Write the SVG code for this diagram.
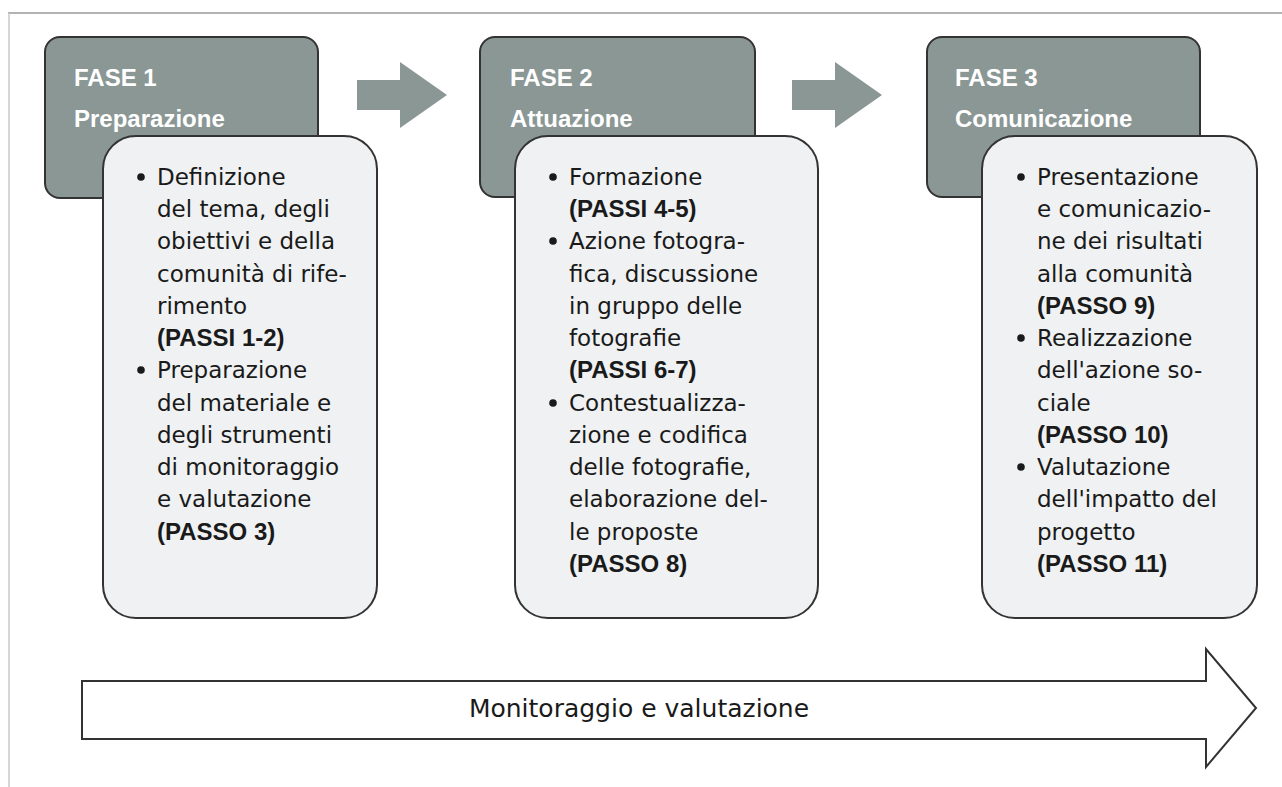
<svg xmlns="http://www.w3.org/2000/svg" width="1282" height="787" viewBox="0 0 1282 787">
<style>
.phase{fill:#8a9795;stroke:#333;stroke-width:2}
.card{fill:#eff1f2;stroke:#333;stroke-width:2}
.step{fill:#8a9795}
.title{font-family:"Liberation Sans",Arial,sans-serif;font-weight:bold;font-size:24px;fill:#fff}
.body{font-family:"DejaVu Sans","Liberation Sans",sans-serif;font-size:23px;fill:#1a1a1a}
.b{font-family:"Liberation Sans",Arial,sans-serif;font-weight:bold;font-size:24px}
.dot{fill:#1a1a1a}
.frame{stroke:#999;stroke-width:1.5;fill:none}
</style>
<rect width="1282" height="787" fill="#fff"/>
<path class="frame" d="M8 13 H1282"/>
<path d="M9 13 V787" stroke="#c8c8c8" stroke-width="1.5" fill="none"/>

<g id="connectors">
<polygon class="step" points="357,80 400,80 400,62 447,95 400,128 400,110 357,110"/>
<polygon class="step" points="792,80 835,80 835,62 882,95 835,128 835,110 792,110"/>
</g>

<g id="fase1">
<rect class="phase" x="45" y="37" width="273" height="161" rx="15"/>
<text class="title" x="74" y="86">FASE 1</text>
<text class="title" x="74" y="127">Preparazione</text>
<rect class="card" x="103" y="136" width="274" height="482" rx="33"/>
<circle class="dot" cx="141" cy="177" r="3.8"/>
<circle class="dot" cx="141" cy="370" r="3.8"/>
<text class="body">
<tspan x="157" y="185">Definizione</tspan>
<tspan x="157" y="217">del tema, degli</tspan>
<tspan x="157" y="249">obiettivi e della</tspan>
<tspan x="157" y="282">comunità di rife-</tspan>
<tspan x="157" y="314">rimento</tspan>
<tspan x="157" y="346" class="b">(PASSI 1-2)</tspan>
<tspan x="157" y="378">Preparazione</tspan>
<tspan x="157" y="411">del materiale e</tspan>
<tspan x="157" y="443">degli strumenti</tspan>
<tspan x="157" y="475">di monitoraggio</tspan>
<tspan x="157" y="507">e valutazione</tspan>
<tspan x="157" y="540" class="b">(PASSO 3)</tspan>
</text>
</g>

<g id="fase2">
<rect class="phase" x="480" y="37" width="275" height="160" rx="15"/>
<text class="title" x="510" y="86">FASE 2</text>
<text class="title" x="510" y="127">Attuazione</text>
<rect class="card" x="515" y="136" width="303" height="482" rx="33"/>
<circle class="dot" cx="553" cy="177" r="3.8"/>
<circle class="dot" cx="553" cy="241" r="3.8"/>
<circle class="dot" cx="553" cy="403" r="3.8"/>
<text class="body">
<tspan x="569" y="185">Formazione</tspan>
<tspan x="569" y="217" class="b">(PASSI 4-5)</tspan>
<tspan x="569" y="249">Azione fotogra-</tspan>
<tspan x="569" y="282">fica, discussione</tspan>
<tspan x="569" y="314">in gruppo delle</tspan>
<tspan x="569" y="346">fotografie</tspan>
<tspan x="569" y="378" class="b">(PASSI 6-7)</tspan>
<tspan x="569" y="411">Contestualizza-</tspan>
<tspan x="569" y="443">zione e codifica</tspan>
<tspan x="569" y="475">delle fotografie,</tspan>
<tspan x="569" y="507">elaborazione del-</tspan>
<tspan x="569" y="540">le proposte</tspan>
<tspan x="569" y="572" class="b">(PASSO 8)</tspan>
</text>
</g>

<g id="fase3">
<rect class="phase" x="927" y="37" width="273" height="160" rx="15"/>
<text class="title" x="955" y="86">FASE 3</text>
<text class="title" x="955" y="127">Comunicazione</text>
<rect class="card" x="982" y="136" width="275" height="482" rx="33"/>
<circle class="dot" cx="1021" cy="177" r="3.8"/>
<circle class="dot" cx="1021" cy="338" r="3.8"/>
<circle class="dot" cx="1021" cy="467" r="3.8"/>
<text class="body">
<tspan x="1037" y="185">Presentazione</tspan>
<tspan x="1037" y="217">e comunicazio-</tspan>
<tspan x="1037" y="249">ne dei risultati</tspan>
<tspan x="1037" y="282">alla comunità</tspan>
<tspan x="1037" y="314" class="b">(PASSO 9)</tspan>
<tspan x="1037" y="346">Realizzazione</tspan>
<tspan x="1037" y="378">dell'azione so-</tspan>
<tspan x="1037" y="411">ciale</tspan>
<tspan x="1037" y="443" class="b">(PASSO 10)</tspan>
<tspan x="1037" y="475">Valutazione</tspan>
<tspan x="1037" y="507">dell'impatto del</tspan>
<tspan x="1037" y="540">progetto</tspan>
<tspan x="1037" y="572" class="b">(PASSO 11)</tspan>
</text>
</g>

<g id="monitoraggio">
<polygon points="82,681 1206,681 1206,649 1256,708 1206,767 1206,739 82,739" fill="#fff" stroke="#333" stroke-width="2"/>
<text x="639" y="717" text-anchor="middle" style="font-family:'DejaVu Sans','Liberation Sans',sans-serif;font-size:25px;fill:#1a1a1a">Monitoraggio e valutazione</text>
</g>
</svg>
